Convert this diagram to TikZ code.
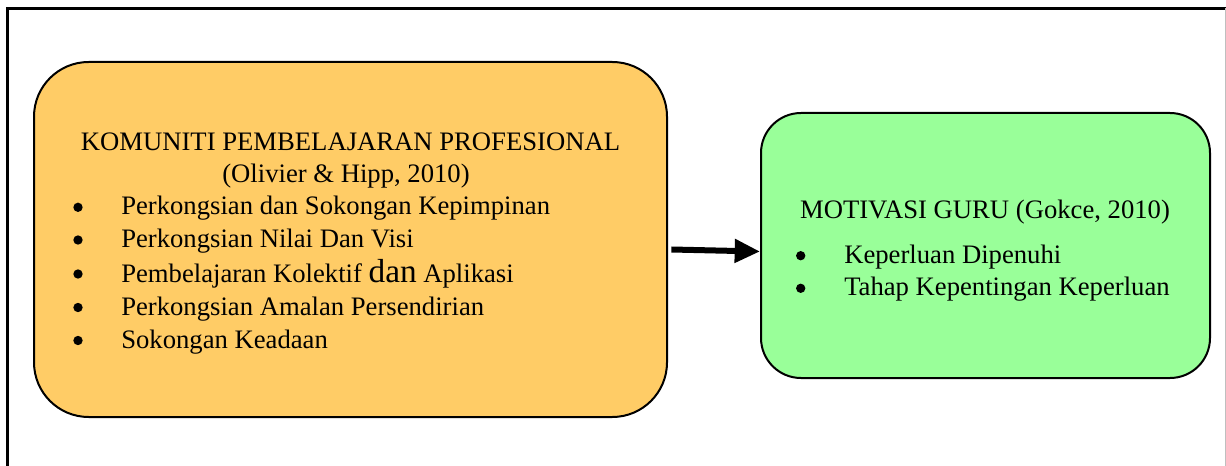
\documentclass[tikz,border=0pt]{standalone}
\usepackage{fontspec}
\setmainfont{Liberation Serif}
\usetikzlibrary{arrows.meta,positioning}
\definecolor{kpporange}{RGB}{255,204,102}
\definecolor{gurugreen}{RGB}{153,255,153}
\tikzset{
    box/.style={draw=black, line width=1.5pt, rectangle},
    txt/.style={anchor=base west, inner sep=0pt, font=\fontsize{20}{24}\selectfont},
    ttl/.style={anchor=base, inner sep=0pt, font=\fontsize{20}{24}\selectfont},
    dot/.style={circle, fill=black, inner sep=0pt, minimum size=7pt},
}

\begin{document}
\begin{tikzpicture}[x=0.75pt,y=0.75pt,yscale=-1,xscale=1]
\useasboundingbox (0,0) rectangle (1226,466);
%Frame
\draw [line width=2.2pt] (7.5,480) -- (7.5,8.5) -- (1226,8.5) ;
\draw [line width=0.75pt, color=black!25] (1225,8.5) -- (1225,480) ;
%Rounded Rect
\node (kom) [box, fill=kpporange, rounded corners=41pt, minimum width=474.75pt, minimum height=266.25pt] at (350.5,239.5) {};
%Rounded Rect
\node (guru) [box, fill=gurugreen, rounded corners=30pt, minimum width=336.75pt, minimum height=198.75pt] at (985.5,245.5) {};
%Straight Lines
\draw [line width=4.5pt, -{Triangle[length=19pt,width=17pt]}] ([xshift=2.5pt,yshift=7.5pt]kom.east) -- ([yshift=4.5pt]guru.west) ;
%left box texts
\node (komttl) [ttl] at (350.5,150.5) {KOMUNITI PEMBELAJARAN PROFESIONAL};
\node (komref) [ttl] at (346,183) {(Olivier \& Hipp, 2010)};
\node (kdot1) [dot] at (78,207.3) {};
\node (kdot2) [dot] at (78,240) {};
\node (kdot3) [dot] at (78,274) {};
\node (kdot4) [dot] at (78,307.5) {};
\node (kdot5) [dot] at (78,340.5) {};
\node (kitem1) [txt] at (121,215) {Perkongsian dan Sokongan Kepimpinan};
\node (kitem2) [txt] at (121,247.5) {Perkongsian Nilai Dan Visi};
\node (kitem3) [txt] at (121,282) {Pembelajaran Kolektif {\fontsize{25}{28}\selectfont dan} Aplikasi};
\node (kitem4) [txt] at (121,315.5) {Perkongsian Amalan Persendirian};
\node (kitem5) [txt] at (121,348.5) {Sokongan Keadaan};
%right box texts
\node (guruttl) [ttl] at (985,218.5) {MOTIVASI GURU (Gokce, 2010)};
\node (gdot1) [dot] at (800.7,255.7) {};
\node (gdot2) [dot] at (800.7,288.3) {};
\node (gitem1) [txt] at (844,263.5) {Keperluan Dipenuhi};
\node (gitem2) [txt] at (844,296) {Tahap Kepentingan Keperluan};
\end{tikzpicture}
\end{document}
